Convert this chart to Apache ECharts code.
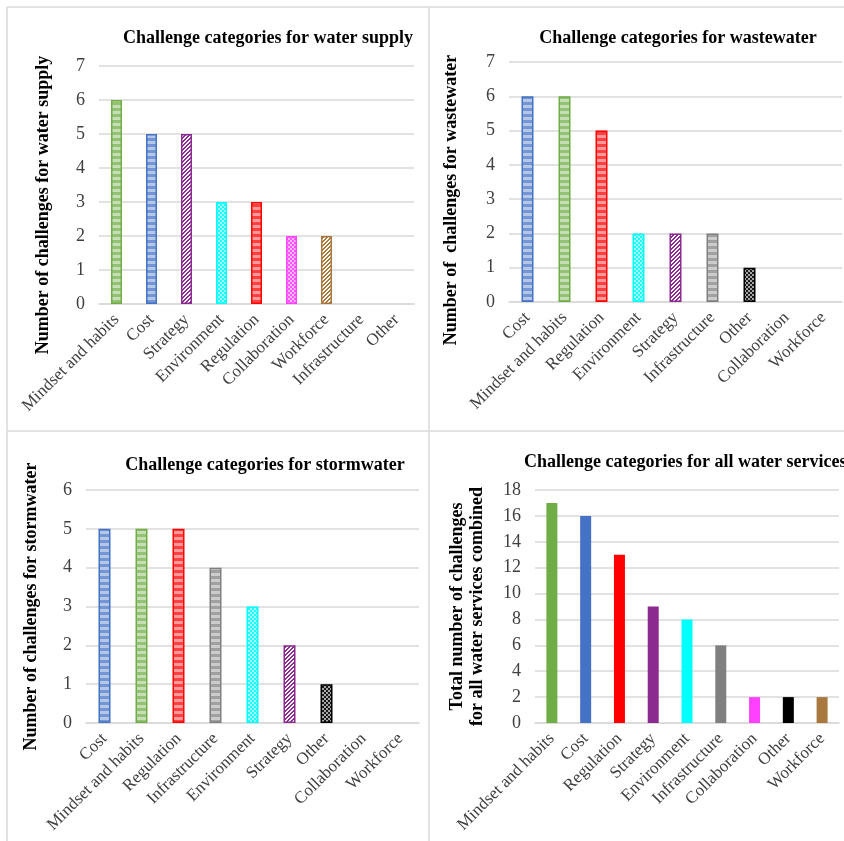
<!DOCTYPE html>
<html>
<head>
<meta charset="utf-8">
<script src="https://cdn.jsdelivr.net/npm/echarts@6/dist/echarts.min.js"></script>
<style>
  html, body { margin: 0; padding: 0; background: #ffffff; }
  #chart { width: 844px; height: 841px; }
</style>
</head>
<body>
<div id="chart"></div>
<script>
// ---- Data ----
const supplyCategories = ['Mindset and habits', 'Cost', 'Strategy', 'Environment', 'Regulation', 'Collaboration', 'Workforce', 'Infrastructure', 'Other'];
const supplyValues = [6, 5, 5, 3, 3, 2, 2, 0, 0];

const wastewaterCategories = ['Cost', 'Mindset and habits', 'Regulation', 'Environment', 'Strategy', 'Infrastructure', 'Other', 'Collaboration', 'Workforce'];
const wastewaterValues = [6, 6, 5, 2, 2, 2, 1, 0, 0];

const stormwaterCategories = ['Cost', 'Mindset and habits', 'Regulation', 'Infrastructure', 'Environment', 'Strategy', 'Other', 'Collaboration', 'Workforce'];
const stormwaterValues = [5, 5, 5, 4, 3, 2, 1, 0, 0];

const allCategories = ['Mindset and habits', 'Cost', 'Regulation', 'Strategy', 'Environment', 'Infrastructure', 'Collaboration', 'Other', 'Workforce'];
const allValues = [17, 16, 13, 9, 8, 6, 2, 2, 2];

// ---- Category styling ----
const categoryColor = {
  'Mindset and habits': '#70ad47',
  'Cost': '#4472c4',
  'Regulation': '#ff0000',
  'Strategy': '#8b2a8f',
  'Environment': '#00ffff',
  'Infrastructure': '#808080',
  'Collaboration': '#ff40ff',
  'Other': '#000000',
  'Workforce': '#a8783e'
};
const categoryPattern = {
  'Mindset and habits': 'bands',
  'Cost': 'bands',
  'Regulation': 'bands',
  'Infrastructure': 'bands',
  'Strategy': 'diagonal',
  'Workforce': 'diagonal',
  'Environment': 'dots',
  'Collaboration': 'dots',
  'Other': 'dots'
};

function hexToRgba(hex, a) {
  const n = parseInt(hex.slice(1), 16);
  return 'rgba(' + ((n >> 16) & 255) + ',' + ((n >> 8) & 255) + ',' + (n & 255) + ',' + a + ')';
}

// Small repeating fill images for the hatched bars
function makePattern(kind, color) {
  const c = document.createElement('canvas');
  const ctx = c.getContext('2d');
  if (kind === 'bands') {
    c.width = 12; c.height = 6;
    ctx.fillStyle = '#ffffff';
    ctx.fillRect(0, 0, 12, 6);
    ctx.fillStyle = hexToRgba(color, 0.75);
    ctx.fillRect(0, 0, 12, 3);
    ctx.fillStyle = hexToRgba(color, 0.4);
    ctx.fillRect(0, 3, 12, 3);
  } else if (kind === 'diagonal') {
    c.width = 4; c.height = 4;
    ctx.fillStyle = '#ffffff';
    ctx.fillRect(0, 0, 4, 4);
    ctx.fillStyle = color;
    for (let i = 0; i < 4; i++) {
      ctx.fillRect(i, 3 - i, 1, 1);
      ctx.fillRect((i + 1) % 4, 3 - i, 1, 1);
    }
  } else {
    c.width = 4; c.height = 4;
    ctx.fillStyle = hexToRgba(color, 0.35);
    ctx.fillRect(0, 0, 4, 4);
    ctx.fillStyle = hexToRgba(color, 0.85);
    ctx.fillRect(0, 0, 2, 2);
    ctx.fillRect(2, 2, 2, 2);
  }
  return { image: c, repeat: 'repeat' };
}

function patternedData(categories, values) {
  return values.map(function (v, i) {
    const col = categoryColor[categories[i]];
    return {
      value: v,
      itemStyle: {
        color: makePattern(categoryPattern[categories[i]], col),
        borderColor: col,
        borderWidth: v > 0 ? 1.5 : 0
      }
    };
  });
}

function solidData(categories, values) {
  return values.map(function (v, i) {
    return { value: v, itemStyle: { color: categoryColor[categories[i]] } };
  });
}

const serif = '"Liberation Serif", "Times New Roman", serif';
const gridLine = { lineStyle: { color: '#d9d9d9', width: 1.5 } };

function xAxisFor(gridIndex, categories) {
  return {
    type: 'category',
    gridIndex: gridIndex,
    data: categories,
    axisLine: { lineStyle: { color: '#d9d9d9', width: 1.5 } },
    axisTick: { show: false },
    axisLabel: {
      interval: 0,
      rotate: 45,
      margin: 13,
      color: '#404040',
      fontFamily: serif,
      fontSize: 17
    }
  };
}

function yAxisFor(gridIndex, max, interval, name, nameGap, namePadding) {
  return {
    type: 'value',
    gridIndex: gridIndex,
    min: 0,
    max: max,
    interval: interval,
    name: name,
    nameLocation: 'middle',
    nameGap: nameGap,
    nameTextStyle: {
      fontFamily: serif,
      fontSize: 18,
      fontWeight: 'bold',
      color: '#000000',
      lineHeight: 20,
      padding: namePadding
    },
    axisLine: { show: false },
    axisTick: { show: false },
    splitLine: gridLine,
    axisLabel: {
      color: '#404040',
      fontFamily: serif,
      fontSize: 18,
      margin: 14
    }
  };
}

function titleFor(text, left, top, align) {
  return {
    text: text,
    left: left,
    top: top,
    textAlign: align,
    padding: 0,
    textStyle: { fontFamily: serif, fontSize: 18, fontWeight: 'bold', color: '#000000' }
  };
}

const chart = echarts.init(document.getElementById('chart'), null, { renderer: 'canvas' });

chart.setOption({
  backgroundColor: '#ffffff',
  animation: false,
  title: [
    titleFor('Challenge categories for water supply', 268, 29, 'center'),
    titleFor('Challenge categories for wastewater', 678, 29, 'center'),
    titleFor('Challenge categories for stormwater', 265, 456, 'center'),
    titleFor('Challenge categories for all water services', 524, 453, 'left')
  ],
  graphic: [
    { type: 'line', shape: { x1: 7, y1: 7, x2: 844, y2: 7 }, style: { stroke: '#d9d9d9', lineWidth: 1.5 } },
    { type: 'line', shape: { x1: 7, y1: 7, x2: 7, y2: 841 }, style: { stroke: '#d9d9d9', lineWidth: 1.5 } },
    { type: 'line', shape: { x1: 429, y1: 7, x2: 429, y2: 841 }, style: { stroke: '#d9d9d9', lineWidth: 1.5 } },
    { type: 'line', shape: { x1: 7, y1: 431, x2: 844, y2: 431 }, style: { stroke: '#d9d9d9', lineWidth: 1.5 } }
  ],
  grid: [
    { left: 99, top: 66, width: 315, height: 238 },
    { left: 509, top: 62, width: 333, height: 240 },
    { left: 86, top: 490, width: 333, height: 233 },
    { left: 535, top: 490, width: 304, height: 233 }
  ],
  xAxis: [
    xAxisFor(0, supplyCategories),
    xAxisFor(1, wastewaterCategories),
    xAxisFor(2, stormwaterCategories),
    xAxisFor(3, allCategories)
  ],
  yAxis: [
    yAxisFor(0, 7, 1, 'Number of challenges for water supply', 46, [0, 40, 0, 0]),
    yAxisFor(1, 7, 1, 'Number of  challenges for wastewater', 48, [0, 36, 0, 0]),
    yAxisFor(2, 6, 1, 'Number of challenges for stormwater', 45, [0, 0, 0, 0]),
    yAxisFor(3, 18, 2, 'Total number of challenges\nfor all water services combined', 48, [0, 0, 0, 0])
  ],
  series: [
    { type: 'bar', xAxisIndex: 0, yAxisIndex: 0, barWidth: 11, data: patternedData(supplyCategories, supplyValues) },
    { type: 'bar', xAxisIndex: 1, yAxisIndex: 1, barWidth: 12, data: patternedData(wastewaterCategories, wastewaterValues) },
    { type: 'bar', xAxisIndex: 2, yAxisIndex: 2, barWidth: 12, data: patternedData(stormwaterCategories, stormwaterValues) },
    { type: 'bar', xAxisIndex: 3, yAxisIndex: 3, barWidth: 11, data: solidData(allCategories, allValues) }
  ]
});
</script>
</body>
</html>
